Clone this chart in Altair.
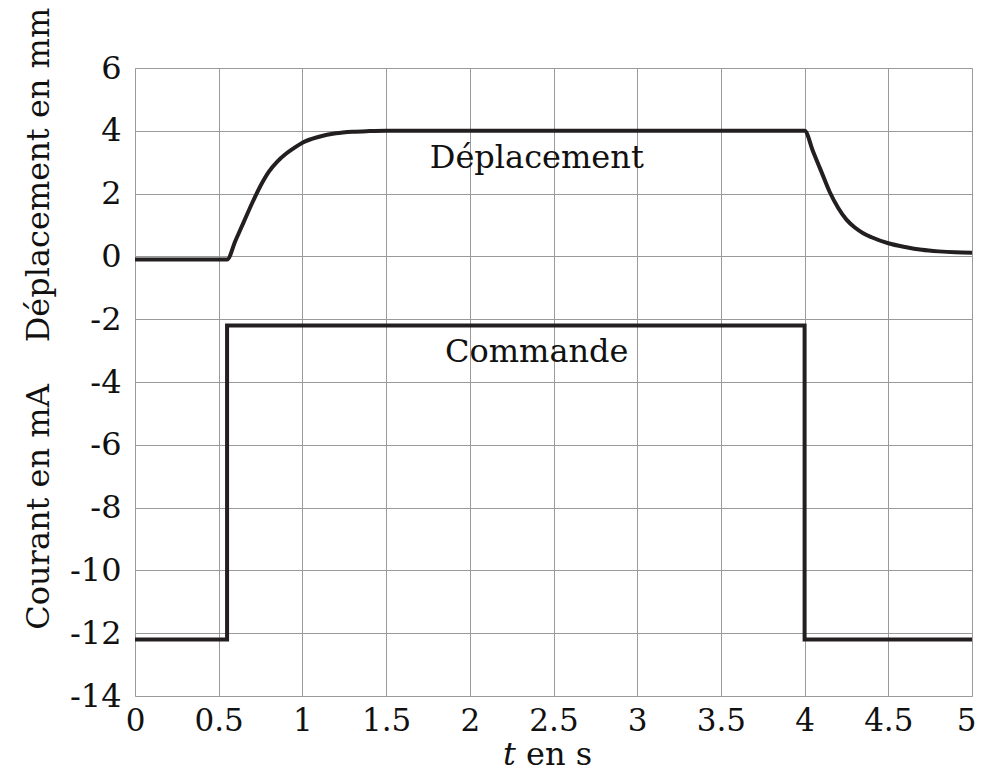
import altair as alt
import pandas as pd

# Commande (courant en mA) – step signal
cmd_t = [0.0, 0.55, 0.55, 4.0, 4.0, 5.0]
cmd_v = [-12.2, -12.2, -2.2, -2.2, -12.2, -12.2]

# Déplacement (mm)
dep_t = [0.0, 0.55, 0.6, 0.65, 0.7, 0.75, 0.8, 0.85, 0.9, 0.95, 1.0, 1.1, 1.2, 1.3, 1.4, 1.5,
         4.0, 4.05, 4.1, 4.15, 4.2, 4.25, 4.3, 4.35, 4.4, 4.5, 4.6, 4.7, 4.8, 4.9, 5.0]
dep_v = [-0.1, -0.1, 0.5, 1.1, 1.7, 2.25, 2.7, 3.02, 3.26, 3.45, 3.62, 3.81, 3.92, 3.97, 3.99, 4.0,
         4.0, 3.35, 2.7, 2.05, 1.55, 1.17, 0.92, 0.74, 0.61, 0.42, 0.3, 0.21, 0.16, 0.13, 0.12]

x_ticks = [0, 0.5, 1, 1.5, 2, 2.5, 3, 3.5, 4, 4.5, 5]
y_ticks = [-14, -12, -10, -8, -6, -4, -2, 0, 2, 4, 6]

lab_text = ["Déplacement", "Commande"]
lab_t = [2.40, 2.40]
lab_v = [2.82, -3.36]

FONT = "DejaVu Serif, Liberation Serif, serif"
W, H = 837, 628

cmd = pd.DataFrame({"t": cmd_t, "v": cmd_v, "i": list(range(len(cmd_t)))})
dep = pd.DataFrame({"t": dep_t, "v": dep_v, "i": list(range(len(dep_t)))})
labels = pd.DataFrame({"txt": lab_text, "t": lab_t, "v": lab_v})

xscale = alt.Scale(domain=[0, 5], nice=False, zero=False)
yscale = alt.Scale(domain=[-14, 6], nice=False, zero=False)

xaxis = alt.Axis(values=x_ticks, title=None, grid=True, gridColor="#9a9a9a", gridWidth=1,
                 domain=False, ticks=False, labelFont=FONT, labelFontSize=31,
                 labelColor="#111", labelPadding=10, labelExpr="'' + datum.value",
                 labelFlush=False,
                 labelAlign={"condition": {"test": "datum.value == 5", "value": "right"},
                             "value": "center"},
                 labelOffset={"condition": {"test": "datum.value == 5", "value": 4},
                              "value": 0})
yaxis = alt.Axis(values=y_ticks, title=None, grid=True, gridColor="#9a9a9a", gridWidth=1,
                 domain=False, ticks=False, labelFont=FONT, labelFontSize=32,
                 labelColor="#111", labelPadding=14,
                 labelExpr="(datum.value < 0 ? '-' : '') + abs(datum.value)")

cmd_line = alt.Chart(cmd).mark_line(color="#231f20", strokeWidth=4, strokeJoin="miter").encode(
    x=alt.X("t:Q", scale=xscale, axis=xaxis),
    y=alt.Y("v:Q", scale=yscale, axis=yaxis),
    order="i:Q",
)
dep_line = alt.Chart(dep).mark_line(color="#231f20", strokeWidth=4, interpolate="monotone").encode(
    x=alt.X("t:Q", scale=xscale),
    y=alt.Y("v:Q", scale=yscale),
    order="i:Q",
)

texts = alt.Chart(labels).mark_text(font=FONT, fontSize=32, color="#111",
                                    align="center", baseline="alphabetic").encode(
    x=alt.X("t:Q", scale=xscale),
    y=alt.Y("v:Q", scale=yscale),
    text="txt:N",
)

base_pt = alt.Chart(pd.DataFrame({"a": [0]}))
t_ital = base_pt.mark_text(font=FONT, fontSize=32, fontStyle="italic", color="#111",
                           align="left", baseline="alphabetic", text="t").encode(
    x=alt.value(368), y=alt.value(697))
t_rest = base_pt.mark_text(font=FONT, fontSize=32, color="#111",
                           align="left", baseline="alphabetic", text="en s").encode(
    x=alt.value(391), y=alt.value(697))
y_top = base_pt.mark_text(font=FONT, fontSize=32, color="#111", angle=270,
                          align="center", baseline="alphabetic",
                          text="Déplacement en mm").encode(
    x=alt.value(-86), y=alt.value(107))
y_bot = base_pt.mark_text(font=FONT, fontSize=32, color="#111", angle=270,
                          align="center", baseline="alphabetic",
                          text="Courant en mA").encode(
    x=alt.value(-86), y=alt.value(439))

chart = alt.layer(cmd_line, dep_line, texts, t_ital, t_rest, y_top, y_bot).properties(
    width=W, height=H,
    autosize=alt.AutoSizeParams(type="none"),
    padding={"left": 127, "top": 60, "right": 4, "bottom": 86},
).configure_view(stroke=None).configure(background="white")

chart.save("out.html", embed_options={"renderer": "svg", "actions": False})
